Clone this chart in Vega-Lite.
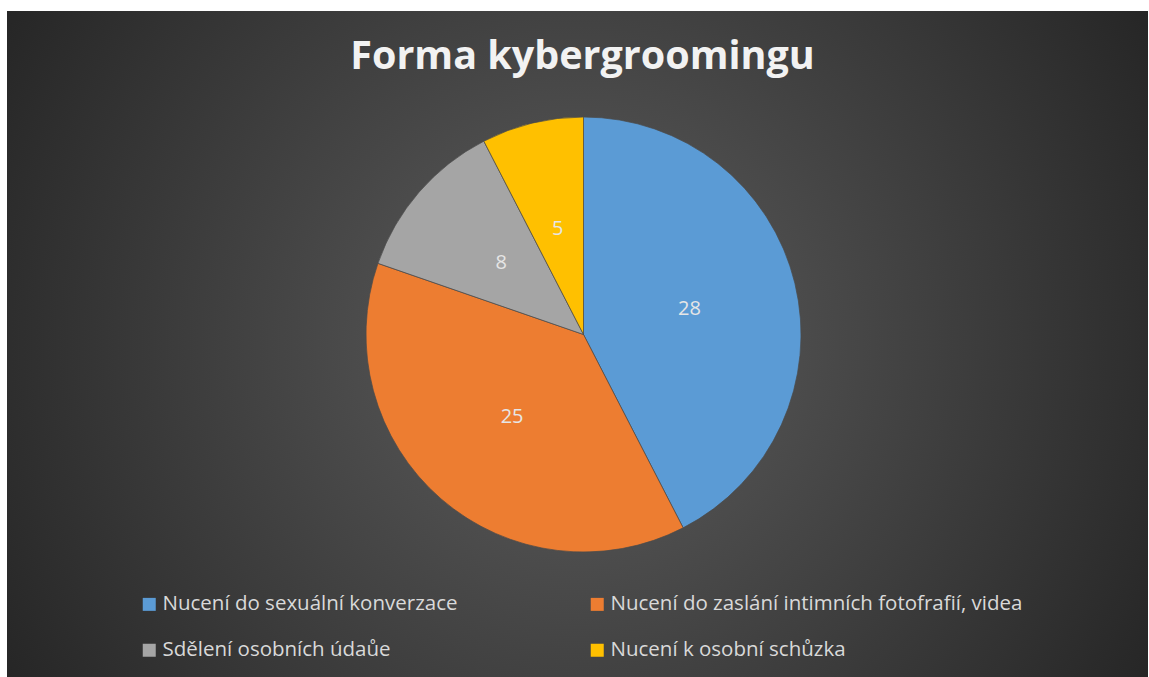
{
  "$schema": "https://vega.github.io/schema/vega-lite/v6.json",
  "autosize": {"type": "fit", "contains": "padding"},
  "width": 1149,
  "height": 677,
  "padding": {"left": 7, "top": 11, "right": 1, "bottom": 0},
  "background": "#ffffff",
  "view": {
    "stroke": null,
    "fill": {
      "gradient": "radial",
      "x1": 0.5, "y1": 0.5, "r1": 0,
      "x2": 0.5, "y2": 0.5, "r2": 0.58,
      "stops": [
        {"offset": 0, "color": "#5e5e5e"},
        {"offset": 1, "color": "#262626"}
      ]
    }
  },
  "title": {
    "text": "Forma kybergroomingu",
    "font": "Open Sans",
    "fontSize": 39.5,
    "fontWeight": "bold",
    "color": "#f2f2f2",
    "anchor": "middle",
    "frame": "group",
    "baseline": "alphabetic",
    "offset": -97,
    "dx": 5
  },
  "data": {
    "values": [
      {"kategorie": "Nucení do sexuální konverzace", "pocet": 28, "poradi": 1},
      {"kategorie": "Nucení do zaslání intimních fotofrafií, videa", "pocet": 25, "poradi": 2},
      {"kategorie": "Sdělení osobních údaůe", "pocet": 8, "poradi": 3},
      {"kategorie": "Nucení k osobní schůzka", "pocet": 5, "poradi": 4}
    ]
  },
  "encoding": {
    "theta": {"field": "pocet", "type": "quantitative", "stack": true},
    "order": {"field": "poradi", "type": "quantitative"},
    "color": {
      "field": "kategorie",
      "type": "nominal",
      "sort": null,
      "scale": {
        "domain": [
          "Nucení do sexuální konverzace",
          "Nucení do zaslání intimních fotofrafií, videa",
          "Sdělení osobních údaůe",
          "Nucení k osobní schůzka"
        ],
        "range": ["#5b9bd5", "#ed7d31", "#a5a5a5", "#ffc000"]
      },
      "legend": {
        "title": null,
        "orient": "none",
        "legendX": 132,
        "legendY": 583,
        "padding": 0,
        "direction": "horizontal",
        "columns": 2,
        "columnPadding": 129,
        "rowPadding": 25,
        "symbolType": "square",
        "symbolSize": 169,
        "symbolStrokeWidth": 0,
        "symbolOffset": 0,
        "labelOffset": 3,
        "labelFont": "Open Sans",
        "labelFontSize": 20.5,
        "labelColor": "#d9d9d9",
        "labelLimit": 600
      }
    }
  },
  "layer": [
    {
      "mark": {"type": "arc", "outerRadius": 217.5, "xOffset": 6, "yOffset": -9.5, "stroke": "#4a4a4a", "strokeWidth": 0.7}
    },
    {
      "mark": {"type": "text", "radius": 109, "xOffset": 6, "yOffset": -9.5, "font": "Open Sans", "fontSize": 20, "fill": "#e6e6e6", "align": "center", "baseline": "middle"},
      "encoding": {
        "text": {"field": "pocet", "type": "quantitative"},
        "color": {"value": "#e6e6e6"}
      }
    }
  ]
}
